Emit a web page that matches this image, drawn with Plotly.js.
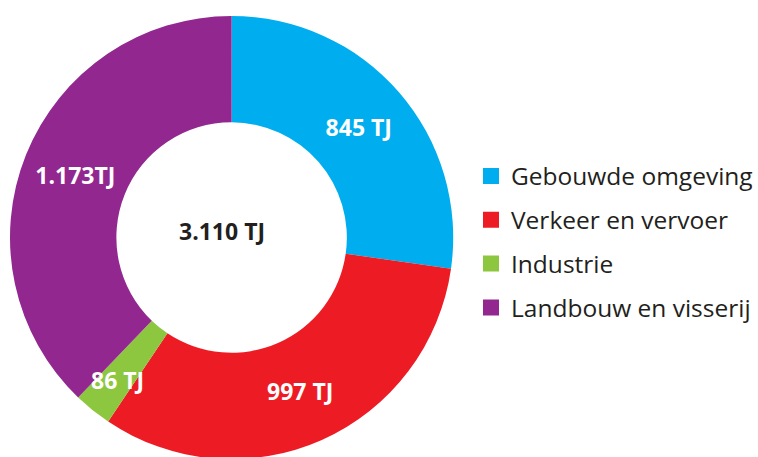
<!DOCTYPE html>
<html>
<head>
<meta charset="utf-8">
<script src="https://cdn.plot.ly/plotly-3.0.1.min.js"></script>
<style>
html,body{margin:0;padding:0;overflow:hidden;background:#fff;}
#chart{width:758px;height:460px;}
</style>
</head>
<body>
<div id="chart"></div>
<script>
var categories = ['Gebouwde omgeving', 'Verkeer en vervoer', 'Industrie', 'Landbouw en visserij'];
var values = [845, 997, 86, 1173];
var valueLabels = ['845 TJ', '997 TJ', '86 TJ', '1.173TJ'];
var totalLabel = '3.110 TJ';
var colors = ['#00AEEF', '#ED1C24', '#8DC63F', '#92278F'];

var FONT = 'Open Sans, sans-serif';
var W = 758, H = 460, ML = 10, MT = 15;
var PW = W - ML, PH = H - MT;
var PIE = 445; // pie box size in px
var cx = (PIE / 2) / PW, cy = 0.5;
var R = PIE / 2;

// small slice label placed as annotation (it overflows its slice in the original)
var total = values.reduce(function (a, b) { return a + b; }, 0);
var smallIdx = 2;
var before = 0;
for (var k = 0; k < smallIdx; k++) before += values[k];
var midFrac = (before + values[smallIdx] / 2) / total;
var ang = midFrac * 2 * Math.PI; // clockwise from 12 o'clock
var rr = 0.82 * R;
var smallX = cx + rr * Math.sin(ang) / PW;
var smallY = cy + rr * Math.cos(ang) / PH;

var traces = [{
  type: 'pie',
  labels: categories,
  values: values,
  text: valueLabels,
  texttemplate: '%{text}',
  textposition: values.map(function (v, i) { return i === smallIdx ? 'none' : 'inside'; }),
  insidetextorientation: 'horizontal',
  textfont: {family: FONT, size: 23, color: '#ffffff', weight: 'bold'},
  marker: {colors: colors, line: {width: 0}},
  hole: 0.52,
  sort: false,
  direction: 'clockwise',
  rotation: 0,
  showlegend: false,
  hoverinfo: 'none',
  domain: {x: [0, PIE / PW], y: [0, 1]}
}];

categories.forEach(function (c, i) {
  traces.push({
    type: 'scatter',
    mode: 'markers',
    x: [null], y: [null],
    name: c,
    legendgroup: 'g' + i,
    marker: {symbol: 'square', size: 17, color: colors[i]},
    showlegend: true,
    hoverinfo: 'none'
  });
});

var layout = {
  width: W,
  height: H,
  margin: {l: ML, r: 0, t: MT, b: 0},
  paper_bgcolor: '#ffffff',
  plot_bgcolor: 'rgba(0,0,0,0)',
  xaxis: {visible: false, domain: [0.99, 1]},
  yaxis: {visible: false, domain: [0.99, 1]},
  showlegend: true,
  legend: {
    x: 0.619, xanchor: 'left',
    y: 0.49, yanchor: 'middle',
    traceorder: 'grouped',
    tracegroupgap: 9,
    font: {family: FONT, size: 24.5, color: '#231F20'},
    bgcolor: 'rgba(0,0,0,0)'
  },
  annotations: [{
    text: totalLabel,
    showarrow: false,
    x: cx, xref: 'paper', xanchor: 'center',
    y: cy, yref: 'paper', yanchor: 'middle',
    xshift: -10, yshift: 7,
    font: {family: FONT, size: 23, color: '#231F20', weight: 'bold'}
  }, {
    text: valueLabels[smallIdx],
    showarrow: false,
    x: smallX, xref: 'paper', xanchor: 'center',
    y: smallY, yref: 'paper', yanchor: 'middle',
    font: {family: FONT, size: 23, color: '#ffffff', weight: 'bold'}
  }]
};

Plotly.newPlot('chart', traces, layout, {displayModeBar: false, staticPlot: true});
</script>
</body>
</html>
